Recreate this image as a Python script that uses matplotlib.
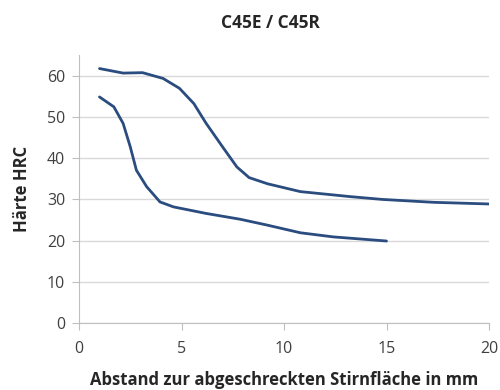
import matplotlib.pyplot as plt

# Jominy curves (distance in mm, hardness in HRC)
x_upper = [1, 2.15, 3.1, 4.1, 4.9, 5.6, 6.2, 7.0, 7.7, 8.3, 9.2, 10.8, 13.2, 14.8, 17.3, 20]
hrc_upper = [61.8, 60.7, 60.8, 59.4, 57.0, 53.3, 48.5, 42.8, 37.9, 35.3, 33.8, 31.9, 30.7, 30.0, 29.3, 28.9]

x_lower = [1, 1.7, 2.15, 2.5, 2.8, 3.3, 3.95, 4.6, 6.2, 7.85, 9.15, 10.8, 12.4, 15]
hrc_lower = [54.9, 52.5, 48.5, 42.8, 37.1, 33.1, 29.4, 28.2, 26.6, 25.2, 23.8, 21.9, 20.9, 19.9]

xticks = [0, 5, 10, 15, 20]
yticks = [0, 10, 20, 30, 40, 50, 60]

plt.rcParams['font.family'] = ['Open Sans', 'DejaVu Sans']

fig = plt.figure(figsize=(5, 3.9), dpi=100)
ax = fig.add_axes([0.158, 0.172, 0.82, 0.686])

line_color = '#2b4c7e'
ax.plot(x_upper, hrc_upper, color=line_color, linewidth=2.0,
        solid_capstyle='round', solid_joinstyle='round')
ax.plot(x_lower, hrc_lower, color=line_color, linewidth=2.0,
        solid_capstyle='round', solid_joinstyle='round')

ax.set_xlim(0, 20)
ax.set_ylim(0, 65)
ax.set_xticks(xticks)
ax.set_yticks(yticks)
ax.grid(axis='y', color='#d9d9d9', linewidth=1)
ax.set_axisbelow(True)

for side in ['top', 'right']:
    ax.spines[side].set_visible(False)
for side in ['left', 'bottom']:
    ax.spines[side].set_color('#bfbfbf')
ax.tick_params(axis='both', colors='#bfbfbf', labelcolor='#404040', labelsize=11.5, length=5)
ax.tick_params(axis='x', pad=8)
ax.tick_params(axis='y', pad=5)

ax.set_xlabel('Abstand zur abgeschreckten Stirnfläche in mm', fontsize=12,
              fontweight='bold', color='#262626', va='center')
ax.xaxis.set_label_coords(0.5, -0.213)
ax.set_ylabel('Härte HRC', fontsize=12, fontweight='bold', color='#262626', va='center')
ax.yaxis.set_label_coords(-0.139, 0.5)
fig.text(0.54, 0.942, 'C45E / C45R', ha='center', va='center',
         fontsize=12.5, fontweight='bold', color='#262626')

fig.savefig('out.png', dpi=100)
